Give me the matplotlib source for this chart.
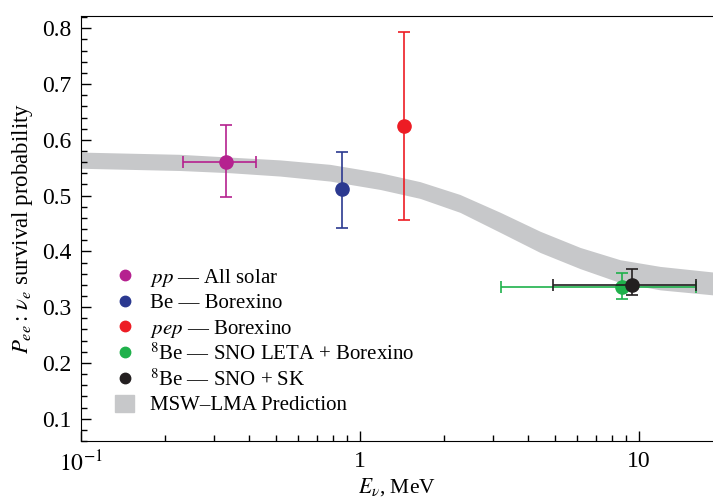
import numpy as np
import matplotlib.pyplot as plt
from matplotlib.lines import Line2D
from matplotlib.patches import Patch
from matplotlib.ticker import FixedLocator, FixedFormatter, MultipleLocator, NullFormatter

plt.rcParams['font.family'] = 'Liberation Serif'
plt.rcParams['mathtext.fontset'] = 'stix'

# MSW-LMA band
band_e = [0.1, 0.150, 0.226, 0.342, 0.517, 0.781, 1.18, 1.64, 2.28, 3.18, 4.42, 6.15, 8.55, 11.9, 18.4]
band_hi = [0.578, 0.576, 0.574, 0.569, 0.564, 0.556, 0.541, 0.525, 0.502, 0.470, 0.436, 0.407, 0.385, 0.373, 0.363]
band_lo = [0.549, 0.547, 0.545, 0.541, 0.535, 0.526, 0.511, 0.495, 0.470, 0.434, 0.398, 0.369, 0.344, 0.331, 0.322]

# data points: energy, x-range, probability, y-range
names = ['$pp$ — All solar', 'Be — Borexino', '$pep$ — Borexino',
         '$^8$Be — SNO LETA + Borexino', '$^8$Be — SNO + SK']
colors = ['#b5218f', '#2b3990', '#ed1c24', '#1fb14b', '#231f20']
energy = [0.331, 0.862, 1.44, 8.69, 9.44]
e_lo = [0.232, None, None, 3.2, 4.92]
e_hi = [0.424, None, None, 16.0, 16.0]
prob = [0.561, 0.511, 0.624, 0.337, 0.339]
p_lo = [0.497, 0.441, 0.457, 0.315, 0.321]
p_hi = [0.626, 0.579, 0.793, 0.362, 0.369]

fig = plt.figure(figsize=(7.13, 4.99), dpi=100)
ax = fig.add_axes([81/713, 1 - 441/499, 1 - 81/713, 425/499])

ax.fill_between(band_e, band_lo, band_hi, color='#c7c8ca', lw=0, zorder=1)

order = [0, 1, 2, 4, 3]  # black drawn below green
for i in order:
    xerr = None
    if e_lo[i] is not None:
        xerr = [[energy[i] - e_lo[i]], [e_hi[i] - energy[i]]]
    yerr = [[prob[i] - p_lo[i]], [p_hi[i] - prob[i]]]
    ax.errorbar([energy[i]], [prob[i]], xerr=xerr, yerr=yerr, fmt='o',
                color=colors[i], ms=9.5, elinewidth=1.2, capsize=4.5,
                capthick=1.2, zorder=3 + i)

ax.set_xscale('log')
ax.set_xlim(0.1, 18.4)
ax.set_ylim(0.06, 0.822)

ax.xaxis.set_major_locator(FixedLocator([0.1, 1, 10]))
ax.xaxis.set_major_formatter(FixedFormatter(['$10^{-1}$', '1', '10']))
ax.xaxis.set_minor_formatter(NullFormatter())
ax.yaxis.set_major_locator(MultipleLocator(0.1))
ax.yaxis.set_minor_locator(MultipleLocator(0.02))
ax.tick_params(which='both', direction='in', top=False, right=False, labelsize=17, width=1)
ax.tick_params(which='major', length=7)
ax.tick_params(which='minor', length=4)
ax.tick_params(axis='x', pad=7)
ax.tick_params(axis='y', pad=7)
ax.spines['right'].set_visible(False)

ax.set_xlabel(r'$E_\nu$, MeV', fontsize=15.5, labelpad=0)
ax.set_ylabel(r'$P_{ee}:\,\nu_e$ survival probability', fontsize=16.5, labelpad=5)

handles = [Line2D([], [], ls='none', marker='o', ms=7.5, color=c) for c in colors]
handles.append(Patch(color='#c7c8ca'))
labels = names + ['MSW–LMA Prediction']
ax.legend(handles, labels, loc='upper left', bbox_to_anchor=(0.054, 0.41),
          frameon=False, fontsize=15, handlelength=0.9, handleheight=0.85,
          handletextpad=0.75, labelspacing=0.2, borderpad=0, borderaxespad=0)

fig.savefig('out.png', dpi=100)
